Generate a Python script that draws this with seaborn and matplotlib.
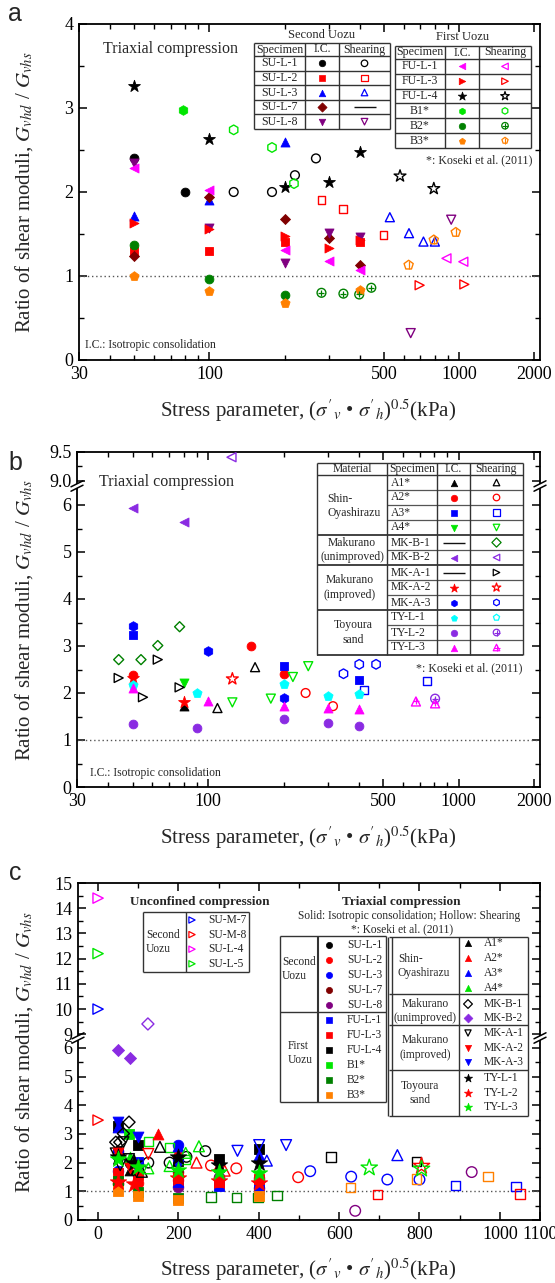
import matplotlib
matplotlib.use("Agg")
import numpy as np
import pandas as pd
import matplotlib.pyplot as plt
import seaborn as sns
from matplotlib.ticker import FixedLocator, NullFormatter
from matplotlib.patches import Rectangle

# ---------------- data (x: stress parameter kPa, y: Gvhd/Gvhs) ----------------
# Second Uozu, triaxial compression
su_l_1_ic_x = [50, 80];                      su_l_1_ic_y = [2.40, 2.00]
su_l_1_sh_x = [125, 178, 220, 267];          su_l_1_sh_y = [2.00, 2.00, 2.20, 2.40]
su_l_2_ic_x = [50, 100, 200, 400];           su_l_2_ic_y = [1.30, 1.30, 1.40, 1.40]
su_l_2_sh_x = [281, 344, 498];               su_l_2_sh_y = [1.90, 1.80, 1.49]
su_l_3_ic_x = [50, 100, 200];                su_l_3_ic_y = [1.71, 1.90, 2.60]
su_l_3_sh_x = [528, 630, 720, 800];          su_l_3_sh_y = [1.70, 1.51, 1.41, 1.41]
su_l_7_ic_x = [50, 100, 200, 300, 400];      su_l_7_ic_y = [1.24, 1.94, 1.68, 1.45, 1.13]
su_l_7_sh_x = [];                            su_l_7_sh_y = []
su_l_8_ic_x = [50, 100, 200, 300, 400];      su_l_8_ic_y = [2.35, 1.57, 1.15, 1.51, 1.47]
su_l_8_sh_x = [640, 930];                    su_l_8_sh_y = [0.32, 1.67]
# First Uozu
fu_l_1_ic_x = [50, 100, 200, 300, 400];      fu_l_1_ic_y = [2.29, 2.02, 1.31, 1.18, 1.07]
fu_l_1_sh_x = [890, 1040];                   fu_l_1_sh_y = [1.21, 1.17]
fu_l_3_ic_x = [50, 100, 200, 300, 400];      fu_l_3_ic_y = [1.63, 1.56, 1.48, 1.33, 1.43]
fu_l_3_sh_x = [695, 1050];                   fu_l_3_sh_y = [0.89, 0.90]
fu_l_4_ic_x = [50, 100, 200, 300, 400];      fu_l_4_ic_y = [3.26, 2.63, 2.06, 2.12, 2.48]
fu_l_4_sh_x = [580, 792];                    fu_l_4_sh_y = [2.19, 2.04]
b1_ic_x = [78];                              b1_ic_y = [2.98]
b1_sh_x = [125, 178, 218];                   b1_sh_y = [2.74, 2.53, 2.10]
b2_ic_x = [50, 100, 200];                    b2_ic_y = [1.37, 0.97, 0.77]
b2_sh_x = [281, 344, 398, 445];              b2_sh_y = [0.80, 0.79, 0.78, 0.86]
b3_ic_x = [50, 100, 200, 400];               b3_ic_y = [1.00, 0.82, 0.68, 0.83]
b3_sh_x = [628, 792, 970];                   b3_sh_y = [1.13, 1.43, 1.52]
# Shin-Oyashirazu, Makurano, Toyoura sand
a1_ic_x = [80];                              a1_ic_y = [1.73]
a1_sh_x = [109, 154];                        a1_sh_y = [1.68, 2.55]
a2_ic_x = [50, 149, 200];                    a2_ic_y = [2.39, 3.01, 2.40]
a2_sh_x = [245, 315];                        a2_sh_y = [2.00, 1.72]
a3_ic_x = [50, 200, 400];                    a3_ic_y = [3.23, 2.58, 2.28]
a3_sh_x = [420, 745];                        a3_sh_y = [2.07, 2.26]
a4_ic_x = [80];                              a4_ic_y = [2.21]
a4_sh_x = [125, 178, 218, 251];              a4_sh_y = [1.80, 1.88, 2.34, 2.57]
mk_b_1_ic_x = [];                            mk_b_1_ic_y = []
mk_b_1_sh_x = [44, 54, 63, 77];              mk_b_1_sh_y = [2.71, 2.71, 3.01, 3.41]
mk_b_2_ic_x = [50, 80];                      mk_b_2_ic_y = [5.93, 5.63]
mk_b_2_sh_x = [124];                         mk_b_2_sh_y = [9.41]
mk_a_1_ic_x = [];                            mk_a_1_ic_y = []
mk_a_1_sh_x = [44, 55, 63, 77];              mk_a_1_sh_y = [2.32, 1.91, 2.71, 2.12]
mk_a_2_ic_x = [50, 80];                      mk_a_2_ic_y = [2.32, 1.80]
mk_a_2_sh_x = [125];                         mk_a_2_sh_y = [2.30]
mk_a_3_ic_x = [50, 100, 200];                mk_a_3_ic_y = [3.42, 2.90, 1.90]
mk_a_3_sh_x = [347, 401, 468];               mk_a_3_sh_y = [2.41, 2.61, 2.61]
ty_l_1_ic_x = [50, 90, 200, 300, 400];       ty_l_1_ic_y = [2.18, 2.00, 2.20, 1.93, 1.97]
ty_l_1_sh_x = [];                            ty_l_1_sh_y = []
ty_l_2_ic_x = [50, 90, 200, 300, 400];       ty_l_2_ic_y = [1.33, 1.26, 1.45, 1.37, 1.30]
ty_l_2_sh_x = [805];                         ty_l_2_sh_y = [1.88]
ty_l_3_ic_x = [50, 100, 200, 300, 400];      ty_l_3_ic_y = [2.11, 1.84, 1.73, 1.68, 1.65]
ty_l_3_sh_x = [675, 805];                    ty_l_3_sh_y = [1.82, 1.78]
# Second Uozu, unconfined compression
unc_names = ['SU-M-7', 'SU-M-8', 'SU-L-4', 'SU-L-5']
unc_x = [0, 0, 0, 0]
unc_y = [10.0, 3.48, 14.40, 12.20]

second_names = ['SU-L-1', 'SU-L-2', 'SU-L-3', 'SU-L-7', 'SU-L-8']
first_names = ['FU-L-1', 'FU-L-3', 'FU-L-4', 'B1*', 'B2*', 'B3*']
b_names = ['A1*', 'A2*', 'A3*', 'A4*', 'MK-B-1', 'MK-B-2', 'MK-A-1', 'MK-A-2', 'MK-A-3',
           'TY-L-1', 'TY-L-2', 'TY-L-3']

series = {
    'SU-L-1': (su_l_1_ic_x, su_l_1_ic_y, su_l_1_sh_x, su_l_1_sh_y),
    'SU-L-2': (su_l_2_ic_x, su_l_2_ic_y, su_l_2_sh_x, su_l_2_sh_y),
    'SU-L-3': (su_l_3_ic_x, su_l_3_ic_y, su_l_3_sh_x, su_l_3_sh_y),
    'SU-L-7': (su_l_7_ic_x, su_l_7_ic_y, su_l_7_sh_x, su_l_7_sh_y),
    'SU-L-8': (su_l_8_ic_x, su_l_8_ic_y, su_l_8_sh_x, su_l_8_sh_y),
    'FU-L-1': (fu_l_1_ic_x, fu_l_1_ic_y, fu_l_1_sh_x, fu_l_1_sh_y),
    'FU-L-3': (fu_l_3_ic_x, fu_l_3_ic_y, fu_l_3_sh_x, fu_l_3_sh_y),
    'FU-L-4': (fu_l_4_ic_x, fu_l_4_ic_y, fu_l_4_sh_x, fu_l_4_sh_y),
    'B1*': (b1_ic_x, b1_ic_y, b1_sh_x, b1_sh_y),
    'B2*': (b2_ic_x, b2_ic_y, b2_sh_x, b2_sh_y),
    'B3*': (b3_ic_x, b3_ic_y, b3_sh_x, b3_sh_y),
    'A1*': (a1_ic_x, a1_ic_y, a1_sh_x, a1_sh_y),
    'A2*': (a2_ic_x, a2_ic_y, a2_sh_x, a2_sh_y),
    'A3*': (a3_ic_x, a3_ic_y, a3_sh_x, a3_sh_y),
    'A4*': (a4_ic_x, a4_ic_y, a4_sh_x, a4_sh_y),
    'MK-B-1': (mk_b_1_ic_x, mk_b_1_ic_y, mk_b_1_sh_x, mk_b_1_sh_y),
    'MK-B-2': (mk_b_2_ic_x, mk_b_2_ic_y, mk_b_2_sh_x, mk_b_2_sh_y),
    'MK-A-1': (mk_a_1_ic_x, mk_a_1_ic_y, mk_a_1_sh_x, mk_a_1_sh_y),
    'MK-A-2': (mk_a_2_ic_x, mk_a_2_ic_y, mk_a_2_sh_x, mk_a_2_sh_y),
    'MK-A-3': (mk_a_3_ic_x, mk_a_3_ic_y, mk_a_3_sh_x, mk_a_3_sh_y),
    'TY-L-1': (ty_l_1_ic_x, ty_l_1_ic_y, ty_l_1_sh_x, ty_l_1_sh_y),
    'TY-L-2': (ty_l_2_ic_x, ty_l_2_ic_y, ty_l_2_sh_x, ty_l_2_sh_y),
    'TY-L-3': (ty_l_3_ic_x, ty_l_3_ic_y, ty_l_3_sh_x, ty_l_3_sh_y),
}

# ---------------- styles ----------------
K, R, BL, MAR, PUR = '#000000', '#ff0000', '#0000ff', '#800000', '#800080'
MAG, LIME, DG, OR, VIO, CY = '#ff00ff', '#00e600', '#008000', '#ff8000', '#8a2be2', '#00ffff'

style_a = {'SU-L-1': ('o', K), 'SU-L-2': ('s', R), 'SU-L-3': ('^', BL), 'SU-L-7': ('D', MAR),
           'SU-L-8': ('v', PUR), 'FU-L-1': ('<', MAG), 'FU-L-3': ('>', R), 'FU-L-4': ('*', K),
           'B1*': ('h', LIME), 'B2*': ('o', DG), 'B3*': ('p', OR)}
extra_a = {'B2*': '+', 'B3*': '|'}
style_b = {'A1*': ('^', K), 'A2*': ('o', R), 'A3*': ('s', BL), 'A4*': ('v', LIME),
           'MK-B-1': ('D', DG), 'MK-B-2': ('<', VIO), 'MK-A-1': ('>', K), 'MK-A-2': ('*', R),
           'MK-A-3': ('h', BL), 'TY-L-1': ('p', CY), 'TY-L-2': ('o', VIO), 'TY-L-3': ('^', MAG)}
extra_b = {'TY-L-2': '+', 'TY-L-3': '+'}
style_c = {'SU-L-1': ('o', K), 'SU-L-2': ('o', R), 'SU-L-3': ('o', BL), 'SU-L-7': ('o', MAR),
           'SU-L-8': ('o', PUR), 'FU-L-1': ('s', BL), 'FU-L-3': ('s', R), 'FU-L-4': ('s', K),
           'B1*': ('s', LIME), 'B2*': ('s', DG), 'B3*': ('s', OR),
           'A1*': ('^', K), 'A2*': ('^', R), 'A3*': ('^', BL), 'A4*': ('^', LIME),
           'MK-B-1': ('D', K), 'MK-B-2': ('D', VIO), 'MK-A-1': ('v', K), 'MK-A-2': ('v', R),
           'MK-A-3': ('v', BL), 'TY-L-1': ('*', K), 'TY-L-2': ('*', R), 'TY-L-3': ('*', LIME)}
unc_colors = [BL, R, MAG, LIME]
size_base = {'o': 40, 's': 32, '^': 42, 'v': 42, 'D': 26, '<': 42, '>': 42, '*': 80, 'h': 48, 'p': 48}

# ---------------- theme ----------------
sns.set_theme(style="ticks")
plt.rcParams['font.family'] = ['Liberation Serif', 'DejaVu Serif']
plt.rcParams['mathtext.fontset'] = 'stix'
plt.rcParams['axes.linewidth'] = 1.3

W, H = 555, 1283
fig = plt.figure(figsize=(W / 100, H / 100), dpi=100)
fig.patch.set_facecolor('white')


def add_ax(l, t, r, b):
    ax = fig.add_axes([l / W, 1 - b / H, (r - l) / W, (b - t) / H])
    ax.set_facecolor('none')
    return ax


def draw(axes, x, y, marker, color, filled, scale=1.0, extra=None):
    x = np.asarray(x, float)
    y = np.asarray(y, float)
    if len(x) == 0:
        return
    s = size_base[marker] * scale
    for ax, lo, hi in axes:
        m = (y >= lo) & (y <= hi)
        if not m.any():
            continue
        df = pd.DataFrame({'x': x[m], 'y': y[m]})
        if filled:
            sns.scatterplot(data=df, x='x', y='y', ax=ax, marker=marker, s=s, color=color,
                            edgecolor=color, linewidth=0.6, zorder=4, legend=False)
        else:
            sns.scatterplot(data=df, x='x', y='y', ax=ax, marker=marker, s=s, color=color,
                            facecolor='none', edgecolor=color, linewidth=1.0, zorder=4, legend=False)
        if extra:
            sns.scatterplot(data=df, x='x', y='y', ax=ax, marker=extra, s=s * 0.6, color=color,
                            linewidth=0.9, zorder=5, legend=False)


def style_axis(ax, top=True, bottom=True):
    for sp in ax.spines.values():
        sp.set_linewidth(1.3)
        sp.set_color('black')
    ax.tick_params(which='both', direction='in', top=top, bottom=bottom, left=True, right=True,
                   labelsize=13, colors='black', pad=4)
    ax.tick_params(which='major', length=6, width=1.1)
    ax.tick_params(which='minor', length=3.5, width=1.0)
    ax.set_xlabel('')
    ax.set_ylabel('')
    ax.grid(False)


def log_x(ax, labels=True):
    ax.set_xscale('log')
    ax.set_xlim(30, 2110)
    ax.xaxis.set_major_locator(FixedLocator([30, 100, 500, 1000, 2000]))
    ax.xaxis.set_minor_locator(FixedLocator([40, 50, 60, 70, 80, 90, 200, 300, 400, 600, 700, 800, 900]))
    ax.xaxis.set_minor_formatter(NullFormatter())
    if labels:
        ax.set_xticklabels(['30', '100', '500', '1000', '2000'])
    else:
        ax.set_xticklabels([])


# ---------------- panel a ----------------
axA = add_ax(79, 24, 540, 360)
axA.set_xscale('log')
for name in second_names + first_names:
    mk, col = style_a[name]
    icx, icy, shx, shy = series[name]
    draw([(axA, -1, 99)], icx, icy, mk, col, True)
    draw([(axA, -1, 99)], shx, shy, mk, col, False, extra=extra_a.get(name))
axA.axhline(1, color='#555555', ls=(0, (1, 2)), lw=1.0, zorder=1)
log_x(axA)
axA.set_ylim(0, 4)
axA.set_yticks([0, 1, 2, 3, 4])
axA.yaxis.set_minor_locator(FixedLocator([0.5, 1.5, 2.5, 3.5]))
style_axis(axA)

# ---------------- panel b ----------------
B_BRK = 486
axBh = add_ax(77, 452, 540, B_BRK)
axBl = add_ax(77, B_BRK, 540, 787)
for a in (axBh, axBl):
    a.set_xscale('log')
b_lo_top = (787 - B_BRK) / 47.0
b_hi_bot = 9.5 - (B_BRK - 452) / 58.0
b_axes = [(axBl, -1, b_lo_top), (axBh, b_hi_bot, 99)]
for name in b_names:
    mk, col = style_b[name]
    icx, icy, shx, shy = series[name]
    draw(b_axes, icx, icy, mk, col, True)
    draw(b_axes, shx, shy, mk, col, False, extra=extra_b.get(name))
axBl.axhline(1, color='#555555', ls=(0, (1, 2)), lw=1.0, zorder=1)
log_x(axBl)
log_x(axBh, labels=False)
axBl.set_ylim(0, b_lo_top)
axBl.set_yticks([0, 1, 2, 3, 4, 5, 6])
axBl.yaxis.set_minor_locator(FixedLocator([0.5, 1.5, 2.5, 3.5, 4.5, 5.5]))
axBh.set_ylim(b_hi_bot, 9.5)
axBh.set_yticks([9.0, 9.5])
axBh.set_yticklabels(['9.0', '9.5'])
axBh.yaxis.set_minor_locator(FixedLocator([9.25]))
style_axis(axBl, top=False, bottom=True)
style_axis(axBh, top=True, bottom=False)
axBl.spines['top'].set_visible(False)
axBh.spines['bottom'].set_visible(False)

# ---------------- panel c ----------------
C_BRK = 1038
axCh = add_ax(78, 883, 540, C_BRK)
axCl = add_ax(78, C_BRK, 540, 1220)
c_lo_top = (1220 - C_BRK) / 28.7
c_hi_bot = 10 - (C_BRK - 1009) / 25.3
c_axes = [(axCl, -1, c_lo_top), (axCh, c_hi_bot, 99)]
for name in second_names + first_names + b_names:
    mk, col = style_c[name]
    icx, icy, shx, shy = series[name]
    sc = 1.9 if mk == '*' else 1.45
    draw(c_axes, icx, icy, mk, col, True, scale=sc)
    draw(c_axes, shx, shy, mk, col, False, scale=sc)
for i in range(len(unc_names)):
    draw(c_axes, [unc_x[i]], [unc_y[i]], '>', unc_colors[i], False, scale=1.3)
axCl.axhline(1, color='#555555', ls=(0, (1, 2)), lw=1.0, zorder=1)
for a in (axCl, axCh):
    a.set_xlim(-50, 1100)
    a.xaxis.set_major_locator(FixedLocator([0, 200, 400, 600, 800, 1000, 1100]))
    a.xaxis.set_minor_locator(FixedLocator([100, 300, 500, 700, 900]))
axCh.set_xticklabels([])
axCl.set_ylim(0, c_lo_top)
axCl.set_yticks([0, 1, 2, 3, 4, 5, 6])
axCl.yaxis.set_minor_locator(FixedLocator([0.5, 1.5, 2.5, 3.5, 4.5, 5.5]))
axCh.set_ylim(c_hi_bot, 15)
axCh.set_yticks([9, 10, 11, 12, 13, 14, 15])
axCh.yaxis.set_minor_locator(FixedLocator([9.5, 10.5, 11.5, 12.5, 13.5, 14.5]))
style_axis(axCl, top=False, bottom=True)
style_axis(axCh, top=True, bottom=False)
axCl.spines['top'].set_visible(False)
axCh.spines['bottom'].set_visible(False)

# ---------------- overlay (labels, tables) ----------------
ov = fig.add_axes([0, 0, 1, 1], zorder=10)
ov.set_xlim(0, W)
ov.set_ylim(H, 0)
ov.axis('off')
ov.patch.set_alpha(0)

LC = '#333333'


def L(x0, y0, x1, y1, lw=1.0, c=LC):
    ov.plot([x0, x1], [y0, y1], color=c, lw=lw, solid_capstyle='butt')


def T(x, y, s, size=8.6, ha='center', va='center', **kw):
    ov.text(x, y, s, fontsize=size, ha=ha, va=va, **kw)


def M(x, y, marker, color, filled=True, s=22, extra=None):
    if marker == 'line':
        L(x - 11, y, x + 11, y, lw=1.0, c='#111111')
        return
    if marker == '*':
        s = s * 1.9
    if filled:
        ov.scatter([x], [y], marker=marker, s=s, color=color, edgecolor=color, linewidth=0.5)
    else:
        ov.scatter([x], [y], marker=marker, s=s, facecolor='none', edgecolor=color, linewidth=0.9)
    if extra:
        ov.scatter([x], [y], marker=extra, s=s * 0.6, color=color, linewidth=0.8)


def brk(x, y):
    ov.add_patch(Rectangle((x - 2, y - 2.2), 4, 4.4, fc='white', ec='none', zorder=11))
    ov.plot([x - 6, x + 6], [y + 0.8, y - 5.2], color='black', lw=1.1, zorder=12)
    ov.plot([x - 6, x + 6], [y + 5.2, y - 0.8], color='black', lw=1.1, zorder=12)


ylab = r"Ratio of shear moduli, $G_{vhd}$ / $G_{vhs}$"
xlab = r"Stress parameter, ($\sigma'_{v}$ • $\sigma'_{h}$)$^{0.5}$(kPa)"
for yc in (192, 620, 1052):
    T(24, yc, ylab, size=15, rotation=90)
for yc in (411, 838, 1270):
    T(308, yc, xlab, size=15)
for lab, yc in (('a', 14), ('b', 463), ('c', 873)):
    T(15, yc, lab, size=18, family='Liberation Sans')

brk(77, B_BRK)
brk(540, B_BRK)
brk(78, C_BRK)
brk(540, C_BRK)

# panel a annotations
T(103, 49, 'Triaxial compression', size=11.5, ha='left')
T(85, 345, 'I.C.: Isotropic consolidation', size=8.4, ha='left')
T(532, 160, '*: Koseki et al. (2011)', size=8.6, ha='right')


def grid_table(xs, ys, header, rows, title=None, title_y=None):
    ov.add_patch(Rectangle((xs[0], ys[0]), xs[-1] - xs[0], ys[-1] - ys[0], fc='white', ec='none'))
    for yy in ys:
        L(xs[0], yy, xs[-1], yy)
    for xx in xs:
        L(xx, ys[0], xx, ys[-1])
    cx = [(xs[i] + xs[i + 1]) / 2 for i in range(3)]
    for j, h in enumerate(header):
        T(cx[j], (ys[0] + ys[1]) / 2, h)
    for i, (name, ic, sh) in enumerate(rows):
        yc = (ys[i + 1] + ys[i + 2]) / 2
        T(cx[0], yc, name)
        M(cx[1], yc, *ic)
        if sh == 'line':
            M(cx[2], yc, 'line', K)
        else:
            M(cx[2], yc, *sh)
    if title:
        T((xs[0] + xs[-1]) / 2, title_y, title, size=9)


rows2 = []
for n in second_names:
    mk, col = style_a[n]
    rows2.append((n, (mk, col, True), 'line' if n == 'SU-L-7' else (mk, col, False, 22, extra_a.get(n))))
grid_table([254, 305, 339, 390], [43, 56] + [56 + 14.6 * k for k in range(1, 6)],
           ['Specimen', 'I.C.', 'Shearing'], rows2, 'Second Uozu', 35)
rows1 = []
for n in first_names:
    mk, col = style_a[n]
    rows1.append((n, (mk, col, True), (mk, col, False, 22, extra_a.get(n))))
grid_table([395, 445, 479, 531], [46, 59] + [59 + 14.83 * k for k in range(1, 7)],
           ['Specimen', 'I.C.', 'Shearing'], rows1, 'First Uozu', 37)

# panel b annotations and table
T(99, 482, 'Triaxial compression', size=11.5, ha='left')
T(90, 773, 'I.C.: Isotropic consolidation', size=8.4, ha='left')
T(523, 668, '*: Koseki et al. (2011)', size=8.6, ha='right')
bx = [317, 387, 437, 470, 523]
ov.add_patch(Rectangle((317, 463), 206, 192, fc='white', ec='none'))
L(317, 463, 523, 463)
L(317, 475, 523, 475)
row_y = [475 + 15 * k for k in range(13)]
for k, yy in enumerate(row_y[1:], start=1):
    if k in (4, 6, 9, 12):
        L(317, yy, 523, yy, lw=1.2, c='#222222')
    else:
        L(387, yy, 523, yy, lw=0.9, c='#555555')
for xx in bx:
    L(xx, 463, xx, 655)
for xc, h in zip([352, 412, 453.5, 496.5], ['Material', 'Specimen', 'I.C.', 'Shearing']):
    T(xc, 469, h, size=8.4)
for i, n in enumerate(b_names):
    yc = 475 + 15 * i + 7.5
    mk, col = style_b[n]
    T(391, yc, n, size=8.4, ha='left')
    if n in ('MK-B-1', 'MK-A-1'):
        M(453.5, yc, 'line', K)
    else:
        M(453.5, yc, mk, col, True)
    M(496.5, yc, mk, col, False, 22, extra_b.get(n))
T(327, 506, 'Shin-\nOyashirazu', size=8.4, ha='left', linespacing=1.3)
T(352, 550, 'Makurano\n(unimproved)', size=8.4, linespacing=1.3)
T(350, 587.5, 'Makurano\n(improved)', size=8.4, linespacing=1.3)
T(353, 632.5, 'Toyoura\nsand', size=8.4, linespacing=1.3)

# panel c annotations and tables
T(200, 902, 'Unconfined compression', size=9.5, weight='bold')
T(401, 902, 'Triaxial compression', size=9.5, weight='bold')
T(409, 916, 'Solid: Isotropic consolidation; Hollow: Shearing', size=8.3)
T(402, 929, '*: Koseki et al. (2011)', size=8.3)
# unconfined table
ov.add_patch(Rectangle((143, 912), 106, 60, fc='white', ec='none'))
for (x0, y0, x1, y1) in [(143, 912, 249, 912), (143, 972, 249, 972), (143, 912, 143, 972),
                         (249, 912, 249, 972), (186, 912, 186, 972)]:
    L(x0, y0, x1, y1)
T(146, 942, 'Second\nUozu', size=8.3, ha='left', linespacing=1.3)
for i, n in enumerate(unc_names):
    yc = 920 + 14.6 * i
    M(192, yc, '>', unc_colors[i], False, 20)
    T(208, yc, n, size=8.3, ha='left')
# Uozu table
ov.add_patch(Rectangle((280, 936), 106, 166, fc='white', ec='none'))
for (x0, y0, x1, y1) in [(280, 936, 386, 936), (280, 1012, 386, 1012), (280, 1102, 386, 1102),
                         (280, 936, 280, 1102), (386, 936, 386, 1102)]:
    L(x0, y0, x1, y1)
L(318, 936, 318, 1102, lw=1.5)
T(282, 969, 'Second\nUozu', size=8.3, ha='left', linespacing=1.3)
T(288, 1053, 'First\nUozu', size=8.3, ha='left', linespacing=1.3)
for i, n in enumerate(second_names + first_names):
    yc = 945 + 15 * i
    mk, col = style_c[n]
    M(329, yc, mk, col, True, 20)
    T(347, yc, n, size=8.3, ha='left')
# other materials table
ov.add_patch(Rectangle((389, 937), 139, 179, fc='white', ec='none'))
for yy in (937, 994, 1025, 1070, 1116):
    L(389, yy, 528, yy)
L(388, 937, 388, 1116)
L(391.5, 937, 391.5, 1116)
L(459, 937, 459, 1116)
L(528, 937, 528, 1116)
c_row_y = [943, 958, 973, 988, 1004, 1018, 1033, 1048, 1062, 1078, 1093, 1107]
for n, yc in zip(b_names, c_row_y):
    mk, col = style_c[n]
    M(468, yc, mk, col, n not in ('MK-B-1', 'MK-A-1'), 20)
    T(484, yc, n, size=8.3, ha='left')
T(398, 966, 'Shin-\nOyashirazu', size=8.3, ha='left', linespacing=1.3)
T(425, 1011, 'Makurano\n(unimproved)', size=8.3, linespacing=1.2)
T(425, 1047.5, 'Makurano\n(improved)', size=8.3, linespacing=1.3)
T(419.5, 1093, 'Toyoura\nsand', size=8.3, linespacing=1.3)

fig.savefig('out.png', dpi=100, facecolor='white')
